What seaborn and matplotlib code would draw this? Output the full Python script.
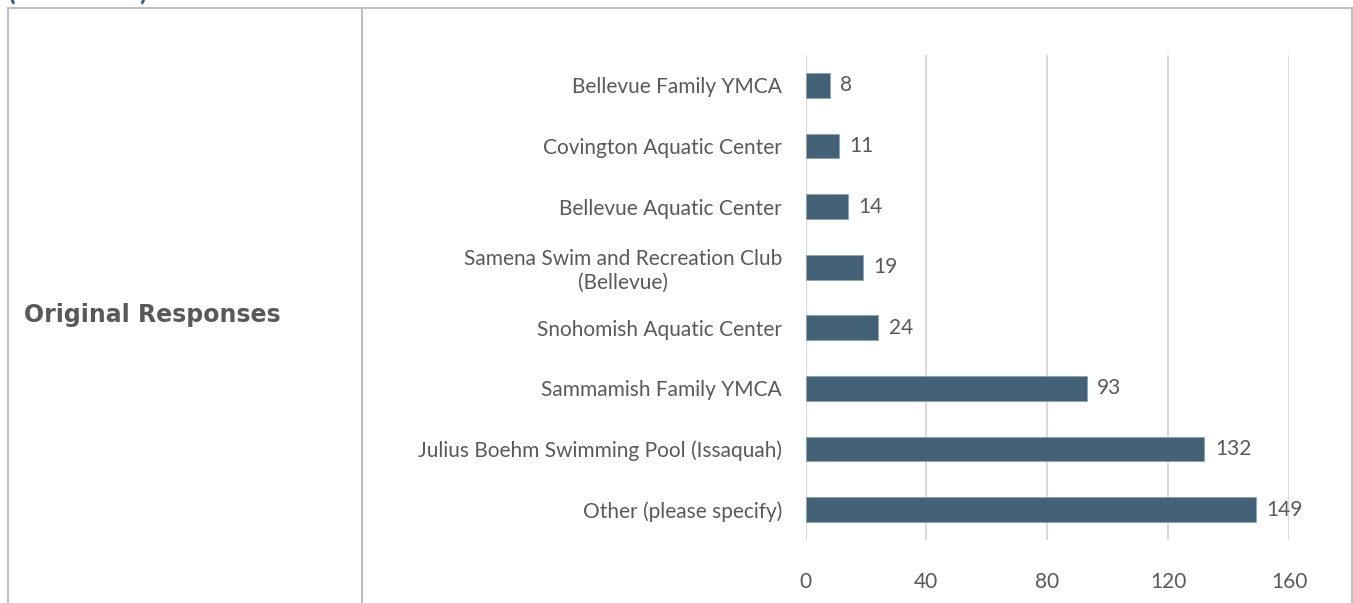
import matplotlib
matplotlib.use("Agg")
import pandas as pd
import seaborn as sns
import matplotlib.pyplot as plt
from matplotlib.lines import Line2D

# data, top to bottom
pools = [
    "Bellevue Family YMCA",
    "Covington Aquatic Center",
    "Bellevue Aquatic Center",
    "Samena Swim and Recreation Club\n(Bellevue)",
    "Snohomish Aquatic Center",
    "Sammamish Family YMCA",
    "Julius Boehm Swimming Pool (Issaquah)",
    "Other (please specify)",
]
responses = [8, 11, 14, 19, 24, 93, 132, 149]
x_ticks = [0, 40, 80, 120, 160]

df = pd.DataFrame({"pool": pools, "responses": responses})

sns.set_theme(style="white")
plt.rcParams["font.family"] = ["Lato", "DejaVu Sans"]

W, H = 1353, 603
fig = plt.figure(figsize=(W / 100, H / 100), dpi=100)
ax = fig.add_axes([805.5 / W, 1 - 540 / H, (1289 - 805.5) / W, (540 - 55) / H])

sns.barplot(data=df, x="responses", y="pool", color="#436177", width=0.41,
            saturation=1, edgecolor="#8fa3b3", linewidth=0.6, ax=ax, zorder=3)

grey = "#595959"
for i, v in enumerate(responses):
    ax.text(v + 3.5, i, str(v), va="center", ha="left", fontsize=15, color=grey)

ax.set_xlim(0, 160)
ax.set_xticks(x_ticks)
ax.set_xlabel("")
ax.set_ylabel("")
ax.grid(axis="x", color="#d9d9d9", linewidth=1.5, zorder=0)
ax.grid(axis="y", visible=False)
sns.despine(ax=ax, left=True, bottom=True)
ax.tick_params(axis="y", length=0, pad=17, labelsize=15, labelcolor=grey)
ax.tick_params(axis="x", length=0, pad=23, labelsize=15, labelcolor=grey)
for lab in ax.get_yticklabels():
    lab.set_multialignment("center")

# row header
fig.text(24 / W, 1 - 315 / H, "Original Responses", fontsize=17, fontweight="bold",
         color=grey, va="center", ha="left", family=["DejaVu Sans"])

# table borders
border = "#bfbfbf"
for xs, ys in [([8, 8], [8, 603]), ([362, 362], [8, 603]),
               ([1352, 1352], [8, 603]), ([8, 1352], [8, 8])]:
    fig.add_artist(Line2D([x / W for x in xs], [1 - y / H for y in ys],
                          color=border, linewidth=1.5))

# heading cut off at the top of the picture, as in the reference
fig.text(8 / W, 1.0, "(continued)", fontsize=20, fontweight="bold",
         color="#2e5f7f", va="baseline", ha="left")

fig.savefig("out.png", dpi=100)
